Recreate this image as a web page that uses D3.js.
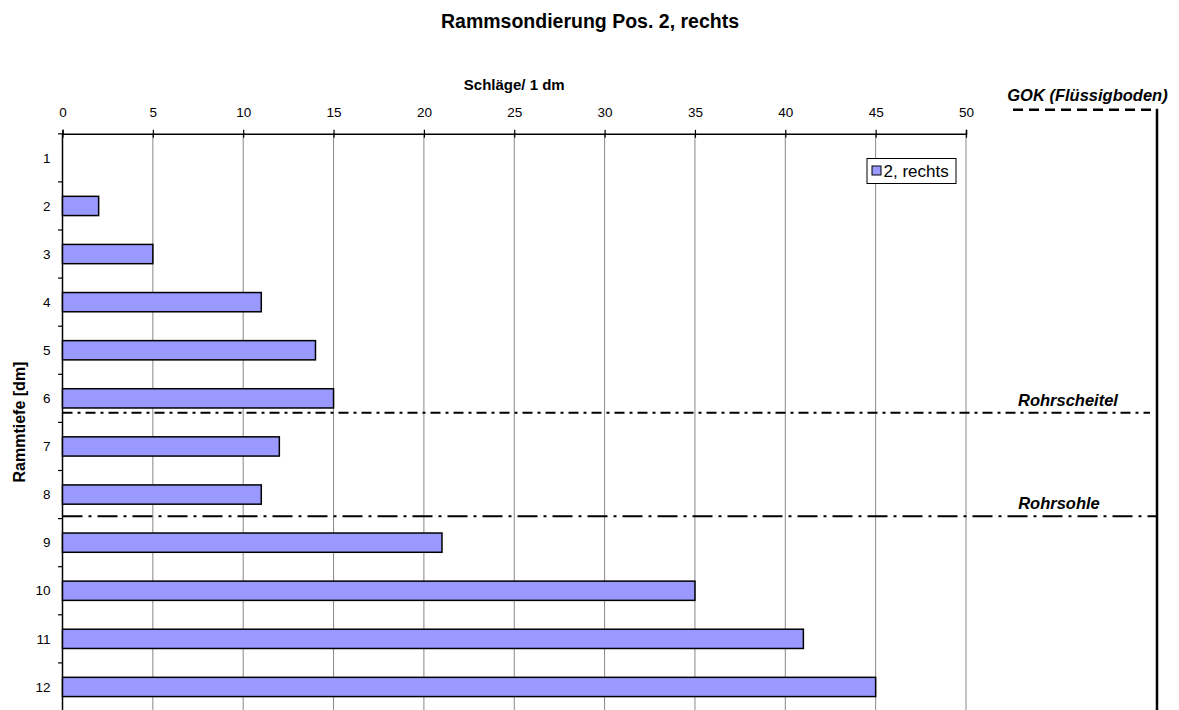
<!DOCTYPE html>
<html>
<head>
<meta charset="utf-8">
<script src="https://cdn.jsdelivr.net/npm/d3@7"></script>
<style>
  html, body { margin: 0; padding: 0; background: #fff; }
  svg { display: block; font-family: "Liberation Sans", Arial, sans-serif; }
</style>
</head>
<body>
<svg id="chart" width="1179" height="710"></svg>
<script>
// Ramming depth (dm) and blows per 1 dm
const depths = [1, 2, 3, 4, 5, 6, 7, 8, 9, 10, 11, 12];
const blows  = [0, 2, 5, 11, 14, 15, 12, 11, 21, 35, 41, 45];
const xTicks = [0, 5, 10, 15, 20, 25, 30, 35, 40, 45, 50];

// Reference levels (depth in dm)
const levelNames  = ["GOK (Flüssigboden)", "Rohrscheitel", "Rohrsohle"];
const levelDepths = [0.0, 6.3, 8.45];

const title = "Rammsondierung Pos. 2, rechts";
const xTitle = "Schläge/ 1 dm";
const yTitle = "Rammtiefe [dm]";
const seriesName = "2, rechts";

const svg = d3.select("#chart");
const plot = { left: 62.5, right: 966, top: 133.8, bottom: 711 };

const x = d3.scaleLinear().domain([0, 50]).range([plot.left, plot.right]);
const yBand = d3.scaleBand().domain(depths).range([plot.top, plot.bottom])
  .paddingInner(0.6).paddingOuter(0.3);
const yDepth = d3.scaleLinear().domain([0.5, 12.5]).range([plot.top, plot.bottom]);

// Title
svg.append("text").attr("x", 590).attr("y", 28).attr("text-anchor", "middle")
  .attr("font-size", 19.5).attr("font-weight", "bold").text(title);

// Vertical gridlines
svg.append("g").selectAll("line").data(xTicks.slice(1)).join("line")
  .attr("x1", d => x(d)).attr("x2", d => x(d))
  .attr("y1", plot.top).attr("y2", plot.bottom)
  .attr("stroke", "#888").attr("stroke-width", 1);

// Top axis with ticks crossing the axis line
const xAxis = d3.axisTop(x).tickValues(xTicks).tickSize(4).tickPadding(13);
const gx = svg.append("g").attr("transform", `translate(0,${plot.top})`).call(xAxis);
gx.select(".domain").attr("stroke", "#000").attr("stroke-width", 1.5);
gx.selectAll(".tick line").attr("stroke", "#000").attr("stroke-width", 1.2).attr("y1", 4).attr("y2", -4);
gx.selectAll(".tick text").attr("font-size", 13.5).attr("font-family", "Liberation Sans, Arial, sans-serif").attr("fill", "#000");

svg.append("text").attr("x", (plot.left + plot.right) / 2).attr("y", 90)
  .attr("text-anchor", "middle").attr("font-size", 15).attr("font-weight", "bold").text(xTitle);

// Left axis: labels at band centres, ticks at band boundaries
const gy = svg.append("g");
gy.append("line").attr("x1", plot.left).attr("x2", plot.left)
  .attr("y1", plot.top).attr("y2", plot.bottom).attr("stroke", "#000").attr("stroke-width", 1.5);
gy.selectAll("line.tk").data(d3.range(0.5, 13, 1)).join("line").attr("class", "tk")
  .attr("x1", plot.left - 4.5).attr("x2", plot.left)
  .attr("y1", d => yDepth(d)).attr("y2", d => yDepth(d))
  .attr("stroke", "#000").attr("stroke-width", 1.2);
gy.selectAll("text").data(depths).join("text")
  .attr("x", 50.5).attr("y", d => yBand(d) + yBand.bandwidth() / 2)
  .attr("dy", "0.35em").attr("text-anchor", "end").attr("font-size", 13.5).text(d => d);

svg.append("text")
  .attr("transform", `translate(25,422) rotate(-90)`)
  .attr("text-anchor", "middle").attr("font-size", 16).attr("font-weight", "bold").text(yTitle);

// Bars
svg.append("g").selectAll("rect").data(depths.map((d, i) => ({ d, v: blows[i] })).filter(r => r.v > 0))
  .join("rect")
  .attr("x", x(0)).attr("y", r => yBand(r.d))
  .attr("width", r => x(r.v) - x(0)).attr("height", yBand.bandwidth())
  .attr("fill", "#9999ff").attr("stroke", "#000").attr("stroke-width", 1.5);

// Legend
const lg = svg.append("g").attr("transform", "translate(867,158.5)");
lg.append("rect").attr("width", 89).attr("height", 25).attr("fill", "#fff").attr("stroke", "#000").attr("stroke-width", 1);
lg.append("rect").attr("x", 5).attr("y", 7.5).attr("width", 9).attr("height", 9)
  .attr("fill", "#9999ff").attr("stroke", "#000").attr("stroke-width", 1);
lg.append("text").attr("x", 16.5).attr("y", 12.5).attr("dy", "0.35em").attr("font-size", 17).text(seriesName);

// Reference level lines and right-hand frame
const frameX = 1157;
const labelSize = 16.5;
const gokY = yDepth(levelDepths[0]);
svg.append("line").attr("x1", 1013).attr("x2", frameX).attr("y1", gokY).attr("y2", gokY)
  .attr("stroke", "#000").attr("stroke-width", 2.5).attr("stroke-dasharray", "10,6");
svg.append("line").attr("x1", frameX).attr("x2", frameX).attr("y1", gokY - 1).attr("y2", plot.bottom)
  .attr("stroke", "#000").attr("stroke-width", 2.5);
svg.append("text").attr("x", 1087.5).attr("y", gokY - 8.5).attr("text-anchor", "middle")
  .attr("font-size", labelSize).attr("font-weight", "bold").attr("font-style", "italic").text(levelNames[0]);

const scY = yDepth(levelDepths[1]);
svg.append("line").attr("x1", plot.left).attr("x2", 1150).attr("y1", scY).attr("y2", scY)
  .attr("stroke", "#000").attr("stroke-width", 2).attr("stroke-dasharray", "10,5,3,5");
svg.append("text").attr("x", 1068).attr("y", scY - 7).attr("text-anchor", "middle")
  .attr("font-size", labelSize).attr("font-weight", "bold").attr("font-style", "italic").text(levelNames[1]);

const soY = yDepth(levelDepths[2]);
svg.append("line").attr("x1", plot.left).attr("x2", frameX).attr("y1", soY).attr("y2", soY)
  .attr("stroke", "#000").attr("stroke-width", 2).attr("stroke-dasharray", "20,6,3,6");
svg.append("text").attr("x", 1059).attr("y", soY - 7).attr("text-anchor", "middle")
  .attr("font-size", labelSize).attr("font-weight", "bold").attr("font-style", "italic").text(levelNames[2]);
</script>
</body>
</html>
